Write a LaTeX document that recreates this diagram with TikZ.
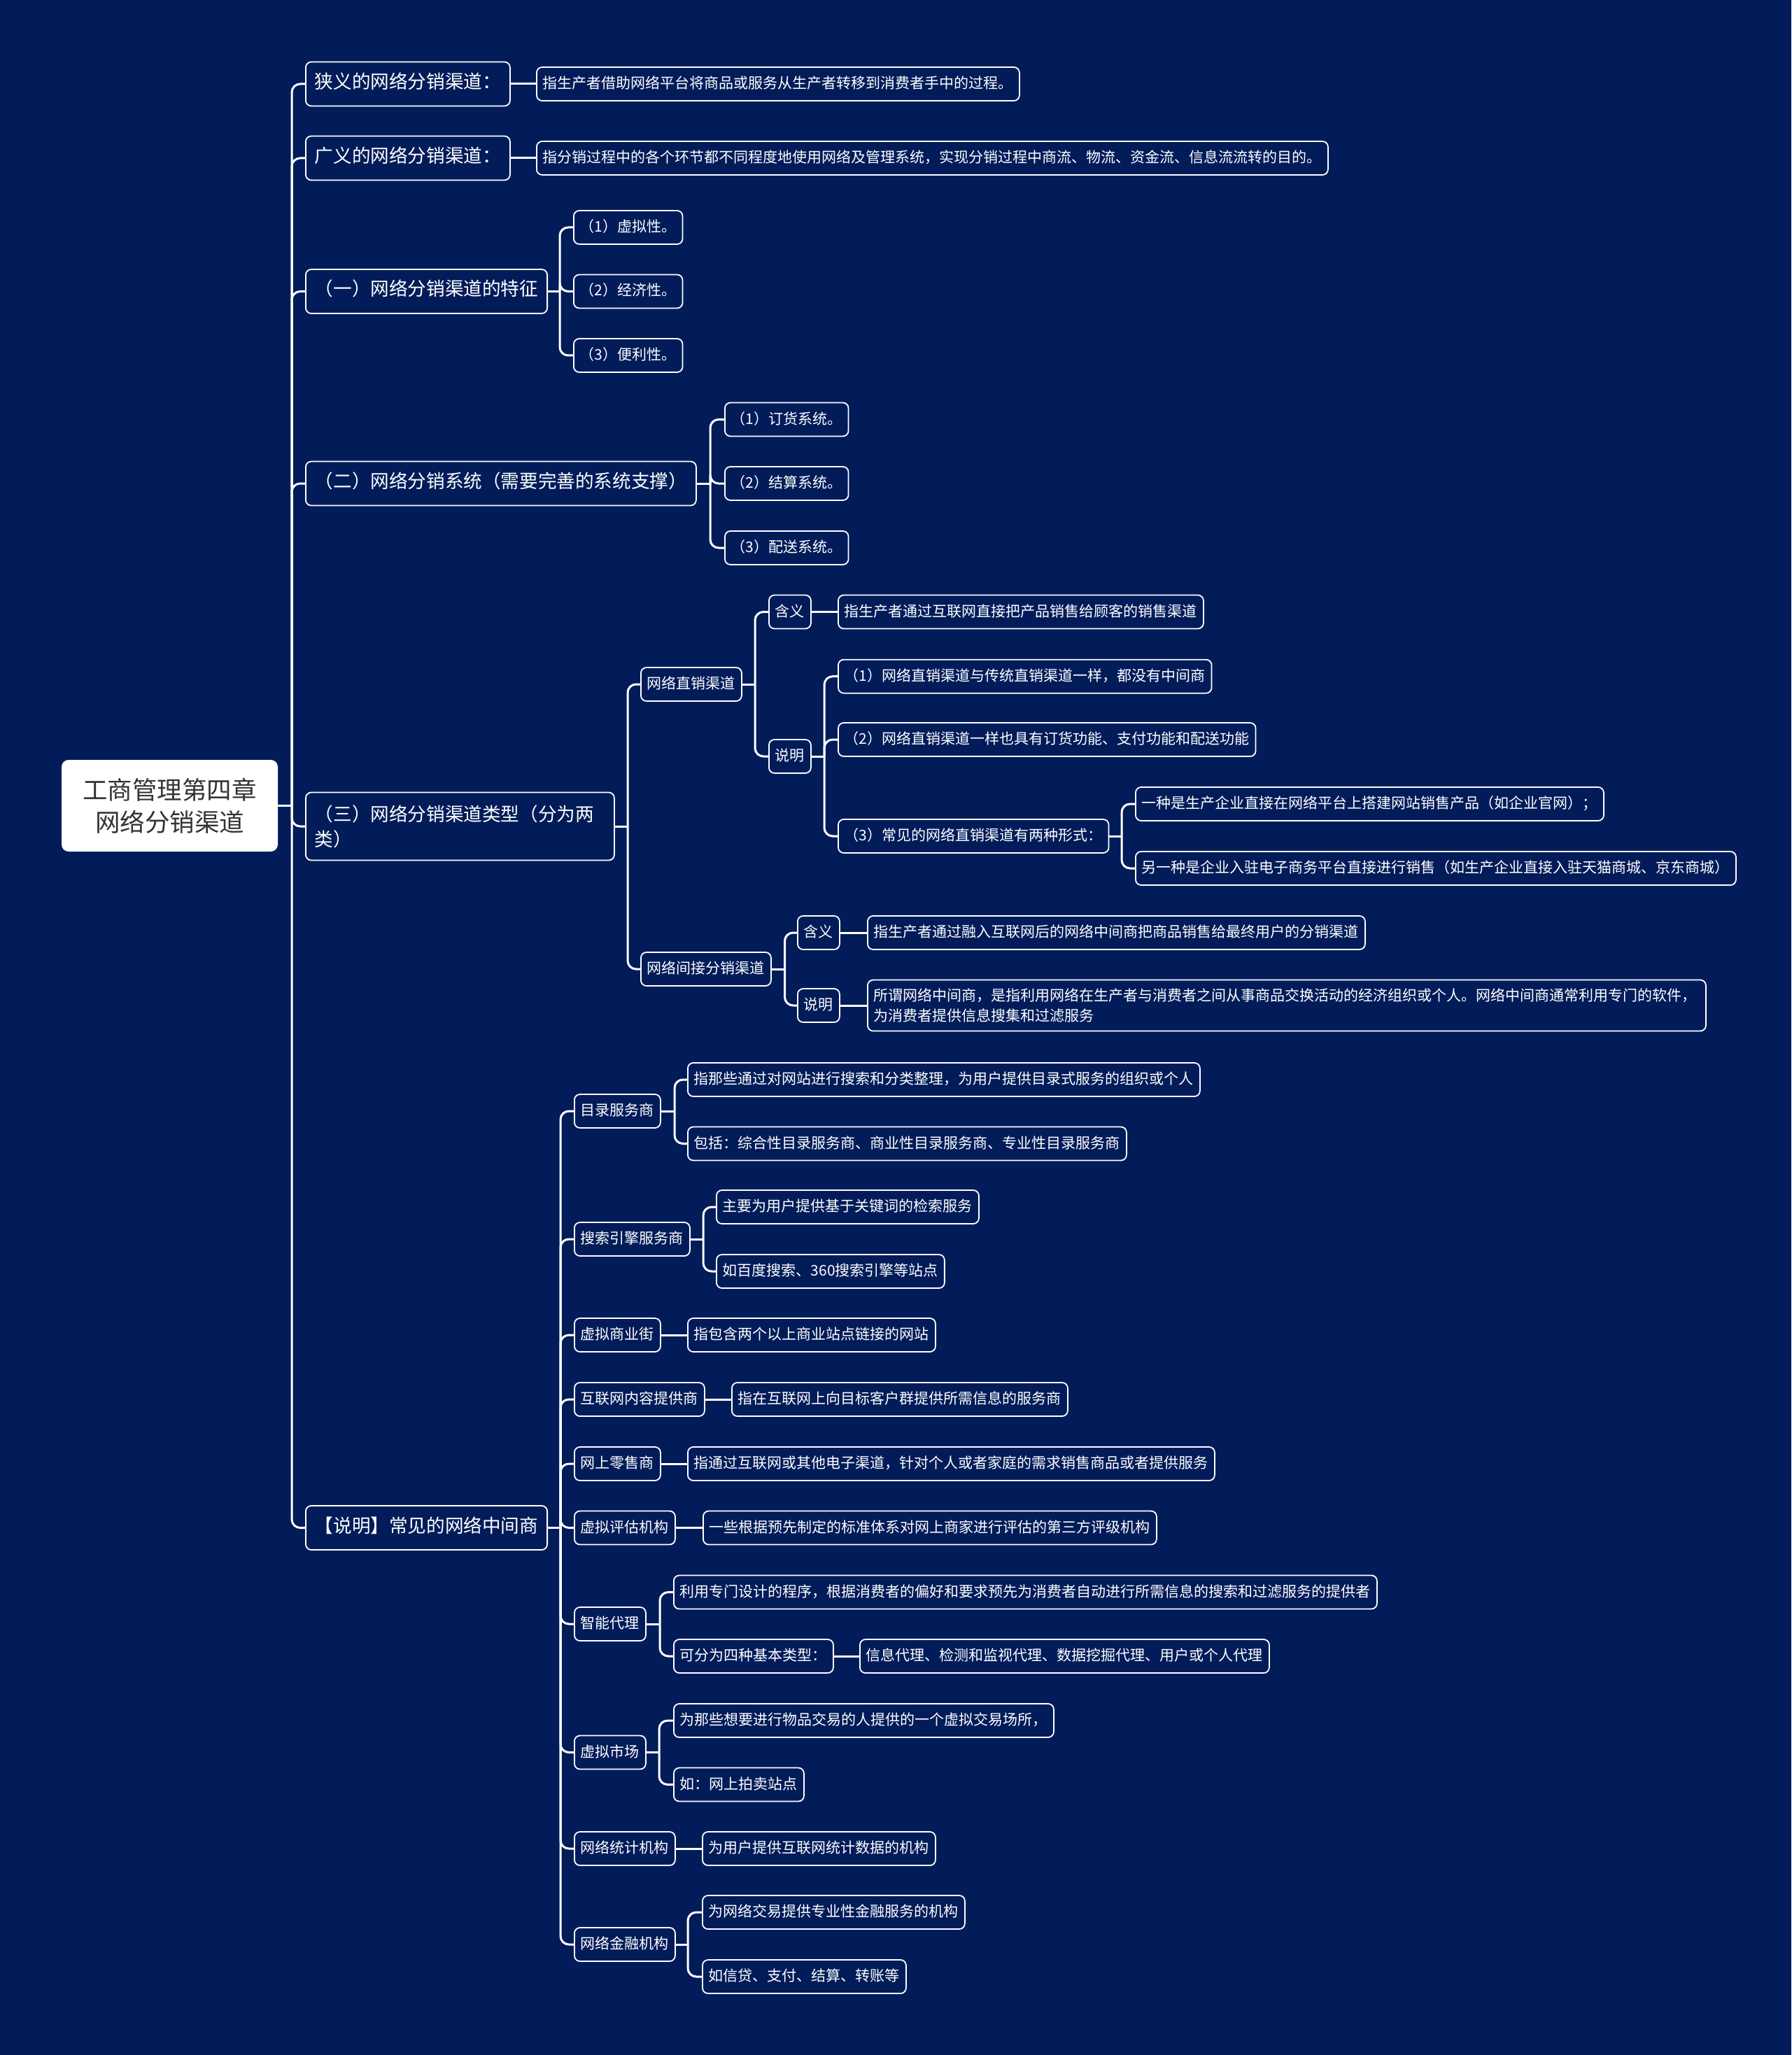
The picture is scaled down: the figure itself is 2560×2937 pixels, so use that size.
\documentclass[tikz,border=0pt]{standalone}
\usepackage{fontspec}
\setmainfont{Noto Sans CJK SC}
\usetikzlibrary{calc}
\definecolor{bg}{RGB}{2,28,89}
\definecolor{roottxt}{RGB}{51,51,51}
\newcommand\mmfs{\fontsize{10.5pt}{14.5pt}\selectfont}
\newcommand\mmfl{\fontsize{13.3pt}{18pt}\selectfont}
\newcommand\mmfr{\fontsize{17.75pt}{23pt}\selectfont}
\begin{document}
\begin{tikzpicture}[x=0.5pt,y=-0.5pt,
 box/.style={draw=white,line width=0.9pt,fill=bg,rounded corners=4pt,text=white,font=\mmfs,inner xsep=4.5pt,inner ysep=0pt,minimum height=24pt,text height=0.85em,text depth=0.2em,anchor=west},
 boxml/.style={draw=white,line width=0.9pt,fill=bg,rounded corners=4pt,text=white,font=\mmfs,inner xsep=4.5pt,inner ysep=3pt,minimum height=36.5pt,align=left,anchor=west},
 lone/.style={box,font=\mmfl,inner xsep=6.5pt,minimum height=31.5pt},
 lonem/.style={boxml,font=\mmfl,inner xsep=6.5pt,minimum height=48.5pt},
 rootbox/.style={fill=white,rounded corners=5pt,text=roottxt,font=\mmfr,align=center,minimum width=154.5pt,minimum height=65.5pt},
 conn/.style={draw=white,line width=1.5pt,rounded corners=6pt},
 stub/.style={draw=white,line width=1.5pt}]

\fill[bg] (0,0) rectangle (2560,2937);
\useasboundingbox (0,0) rectangle (2560,2937);

% root
\node[rootbox] (root) at (242.5,1151.5) {工商管理第四章\\网络分销渠道};

% level 1
\node[lone] (a1) at (436,120) {狭义的网络分销渠道：};
\node[lone] (a2) at (436,226) {广义的网络分销渠道：};
\node[lone] (a3) at (436,416.5) {（一）网络分销渠道的特征};
\node[lone] (a4) at (436,691) {（二）网络分销系统（需要完善的系统支撑）};
\node[lonem,text width=207.5pt] (a5) at (436,1181) {（三）网络分销渠道类型（分为两\\类）};
\node[lone] (a6) at (436,2183.5) {【说明】常见的网络中间商};

% a1, a2
\node[box] (b11) at (766,120) {指生产者借助网络平台将商品或服务从生产者转移到消费者手中的过程。};
\node[box] (b21) at (766,226) {指分销过程中的各个环节都不同程度地使用网络及管理系统，实现分销过程中商流、物流、资金流、信息流流转的目的。};

% a3
\node[box] (a3n1) at (819,325) {（1）虚拟性。};
\node[box] (a3n2) at (819,416.5) {（2）经济性。};
\node[box] (a3n3) at (819,508) {（3）便利性。};

% a4
\node[box] (a4n1) at (1035,599.5) {（1）订货系统。};
\node[box] (a4n2) at (1035,691) {（2）结算系统。};
\node[box] (a4n3) at (1035,783) {（3）配送系统。};

% a5
\node[box] (c1) at (915,978) {网络直销渠道};
\node[box] (c2) at (915,1385) {网络间接分销渠道};
\node[box] (d1) at (1098,874.5) {含义};
\node[box] (d2) at (1098,1081) {说明};
\node[box] (d1t) at (1197,874.5) {指生产者通过互联网直接把产品销售给顾客的销售渠道};
\node[box] (e1) at (1197,966.7) {（1）网络直销渠道与传统直销渠道一样，都没有中间商};
\node[box] (e2) at (1197,1057) {（2）网络直销渠道一样也具有订货功能、支付功能和配送功能};
\node[box] (e3) at (1197,1195) {（3）常见的网络直销渠道有两种形式：};
\node[box] (f1) at (1622,1149) {一种是生产企业直接在网络平台上搭建网站销售产品（如企业官网）；};
\node[box] (f2) at (1622,1241) {另一种是企业入驻电子商务平台直接进行销售（如生产企业直接入驻天猫商城、京东商城）};
\node[box] (g1) at (1139,1333) {含义};
\node[box] (g2) at (1139,1437) {说明};
\node[box] (g1t) at (1239,1333) {指生产者通过融入互联网后的网络中间商把商品销售给最终用户的分销渠道};
\node[boxml,text width=590pt] (g2t) at (1239,1437) {所谓网络中间商，是指利用网络在生产者与消费者之间从事商品交换活动的经济组织或个人。网络中间商通常利用专门的软件，\\为消费者提供信息搜集和过滤服务};

% a6
\node[box] (h1) at (820,1588) {目录服务商};
\node[box] (h1a) at (982,1543) {指那些通过对网站进行搜索和分类整理，为用户提供目录式服务的组织或个人};
\node[box] (h1b) at (982,1634.5) {包括：综合性目录服务商、商业性目录服务商、专业性目录服务商};
\node[box] (h2) at (820,1771) {搜索引擎服务商};
\node[box] (h2a) at (1023,1725) {主要为用户提供基于关键词的检索服务};
\node[box] (h2b) at (1023,1817) {如百度搜索、360搜索引擎等站点};
\node[box] (h3) at (820,1908) {虚拟商业街};
\node[box] (h3a) at (982,1908) {指包含两个以上商业站点链接的网站};
\node[box] (h4) at (820,2000) {互联网内容提供商};
\node[box] (h4a) at (1045,2000) {指在互联网上向目标客户群提供所需信息的服务商};
\node[box] (h5) at (820,2092) {网上零售商};
\node[box] (h5a) at (982,2092) {指通过互联网或其他电子渠道，针对个人或者家庭的需求销售商品或者提供服务};
\node[box] (h6) at (820,2183.5) {虚拟评估机构};
\node[box] (h6a) at (1004,2183.5) {一些根据预先制定的标准体系对网上商家进行评估的第三方评级机构};
\node[box] (h7) at (820,2321) {智能代理};
\node[box] (h7a) at (962,2275.5) {利用专门设计的程序，根据消费者的偏好和要求预先为消费者自动进行所需信息的搜索和过滤服务的提供者};
\node[box] (h7b) at (962,2367) {可分为四种基本类型：};
\node[box] (h7c) at (1228,2367) {信息代理、检测和监视代理、数据挖掘代理、用户或个人代理};
\node[box] (h8) at (820,2504.5) {虚拟市场};
\node[box] (h8a) at (962,2459) {为那些想要进行物品交易的人提供的一个虚拟交易场所，};
\node[box] (h8b) at (962,2550.5) {如：网上拍卖站点};
\node[box] (h9) at (820,2642) {网络统计机构};
\node[box] (h9a) at (1003,2642) {为用户提供互联网统计数据的机构};
\node[box] (h10) at (820,2779) {网络金融机构};
\node[box] (h10a) at (1003,2733) {为网络交易提供专业性金融服务的机构};
\node[box] (h10b) at (1003,2825) {如信贷、支付、结算、转账等};

% connectors
\coordinate (rB) at (417,1151.5);
\draw[stub] (root.east) -- (rB);
\foreach \c in {a1,a2,a3,a4,a5,a6} \draw[conn] (rB) |- (\c.west);

\draw[stub] (a1.east) -- (b11.west);
\draw[stub] (a2.east) -- (b21.west);

\coordinate (a3B) at (800,416.5);
\draw[stub] (a3.east) -- (a3B);
\foreach \c in {a3n1,a3n2,a3n3} \draw[conn] (a3B) |- (\c.west);

\coordinate (a4B) at (1015,691);
\draw[stub] (a4.east) -- (a4B);
\foreach \c in {a4n1,a4n2,a4n3} \draw[conn] (a4B) |- (\c.west);

\coordinate (a5B) at (897,1181);
\draw[stub] (a5.east) -- (a5B);
\foreach \c in {c1,c2} \draw[conn] (a5B) |- (\c.west);

\coordinate (c1B) at (1079,978);
\draw[stub] (c1.east) -- (c1B);
\foreach \c in {d1,d2} \draw[conn] (c1B) |- (\c.west);
\draw[stub] (d1.east) -- (d1t.west);

\coordinate (d2B) at (1178,1081);
\draw[stub] (d2.east) -- (d2B);
\foreach \c in {e1,e2,e3} \draw[conn] (d2B) |- (\c.west);

\coordinate (e3B) at (1603,1195);
\draw[stub] (e3.east) -- (e3B);
\foreach \c in {f1,f2} \draw[conn] (e3B) |- (\c.west);

\coordinate (c2B) at (1121.5,1385);
\draw[stub] (c2.east) -- (c2B);
\foreach \c in {g1,g2} \draw[conn] (c2B) |- (\c.west);
\draw[stub] (g1.east) -- (g1t.west);
\draw[stub] (g2.east) -- (g2t.west);

\coordinate (a6B) at (801,2183.5);
\draw[stub] (a6.east) -- (a6B);
\foreach \c in {h1,h2,h3,h4,h5,h6,h7,h8,h9,h10} \draw[conn] (a6B) |- (\c.west);

\coordinate (h1B) at (964,1588);
\draw[stub] (h1.east) -- (h1B);
\foreach \c in {h1a,h1b} \draw[conn] (h1B) |- (\c.west);

\coordinate (h2B) at (1005,1771);
\draw[stub] (h2.east) -- (h2B);
\foreach \c in {h2a,h2b} \draw[conn] (h2B) |- (\c.west);

\draw[stub] (h3.east) -- (h3a.west);
\draw[stub] (h4.east) -- (h4a.west);
\draw[stub] (h5.east) -- (h5a.west);
\draw[stub] (h6.east) -- (h6a.west);

\coordinate (h7B) at (943,2321);
\draw[stub] (h7.east) -- (h7B);
\foreach \c in {h7a,h7b} \draw[conn] (h7B) |- (\c.west);
\draw[stub] (h7b.east) -- (h7c.west);

\coordinate (h8B) at (942,2504.5);
\draw[stub] (h8.east) -- (h8B);
\foreach \c in {h8a,h8b} \draw[conn] (h8B) |- (\c.west);

\draw[stub] (h9.east) -- (h9a.west);

\coordinate (h10B) at (983,2779);
\draw[stub] (h10.east) -- (h10B);
\foreach \c in {h10a,h10b} \draw[conn] (h10B) |- (\c.west);

\end{tikzpicture}
\end{document}
